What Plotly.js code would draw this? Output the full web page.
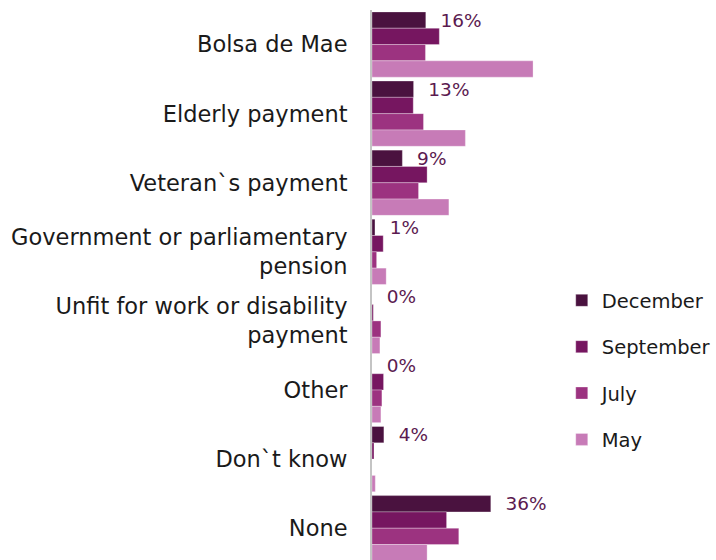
<!DOCTYPE html>
<html>
<head>
<meta charset="utf-8">
<script src="https://cdn.plot.ly/plotly-3.0.1.min.js"></script>
<style>html,body{margin:0;padding:0;background:#fff;}#chart{width:716px;height:560px;}</style>
</head>
<body>
<div id="chart"></div>
<script>
const categories = [
  "Bolsa de Mae",
  "Elderly payment",
  "Veteran`s payment",
  "Government or parliamentary<br>pension",
  "Unfit for work or disability<br>payment",
  "Other",
  "Don`t know",
  "None"
];
const seriesNames = ["December", "September", "July", "May"];
const december  = [16.3, 12.6, 9.2, 0.9, 0, 0, 3.6, 36];
const september = [20.4, 12.5, 16.7, 3.4, 0.4, 3.5, 0.6, 22.6];
const july      = [16.2, 15.6, 14.1, 1.4, 2.7, 3.0, 0, 26.3];
const may       = [48.8, 28.3, 23.3, 4.3, 2.4, 2.7, 1.0, 16.7];
const colors = ["#4a123f", "#761660", "#9c3380", "#c77bb7"];

const seriesValues = [december, september, july, may];
const decLabels = december.map(v => "\u00a0\u00a0" + Math.round(v) + "%");

const traces = seriesValues.map((vals, i) => {
  const t = {
    type: "bar",
    orientation: "h",
    name: seriesNames[i],
    legendgroup: seriesNames[i],
    x: vals,
    y: categories,
    marker: {color: colors[i], line: {color: "rgba(255,255,255,0.6)", width: 0.5}},
    hoverinfo: "skip",
    cliponaxis: false
  };
  if (i === 0) {
    t.text = decLabels;
    t.textposition = "outside";
    t.constraintext = "none";
    t.textfont = {family: "DejaVu Sans", size: 18.5, color: "#5b1a50"};
  } else {
    t.textposition = "none";
  }
  return t;
});

const layout = {
  width: 716,
  height: 560,
  margin: {l: 372, r: 172, t: 10, b: 0},
  paper_bgcolor: "#ffffff",
  plot_bgcolor: "#ffffff",
  barmode: "group",
  bargap: 0.056,
  bargroupgap: 0,
  showlegend: true,
  legend: {
    x: 1.15, xanchor: "left",
    y: 0.507, yanchor: "top",
    traceorder: "grouped",
    tracegroupgap: 18,
    font: {family: "DejaVu Sans", size: 19.5, color: "#1a1a1a"},
    bgcolor: "rgba(0,0,0,0)"
  },
  xaxis: {
    range: [0, 50],
    showgrid: false,
    zeroline: false,
    showticklabels: false,
    ticks: "",
    showline: false,
    fixedrange: true
  },
  yaxis: {
    range: [7.46, -0.5],
    showgrid: false,
    zeroline: false,
    showline: true,
    linecolor: "#c4c4c4",
    linewidth: 2,
    ticks: "",
    ticklabelstandoff: 18,
    tickfont: {family: "DejaVu Sans", size: 22.5, color: "#1a1a1a"},
    fixedrange: true
  }
};

Plotly.newPlot("chart", traces, layout, {displayModeBar: false, staticPlot: true});
</script>
</body>
</html>
